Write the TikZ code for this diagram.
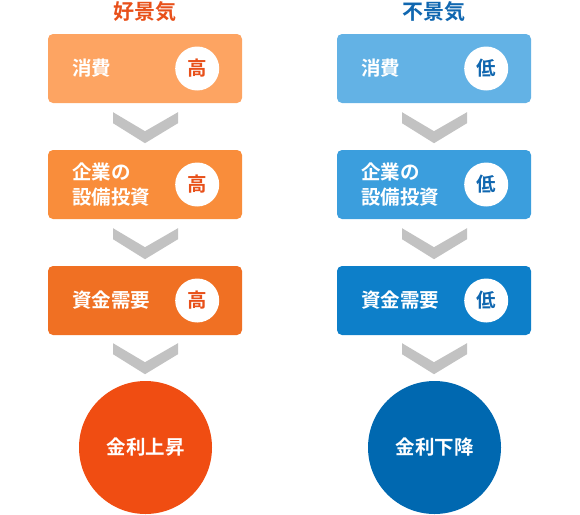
\documentclass[tikz,border=0pt]{standalone}
\usepackage{fontspec}
\usetikzlibrary{positioning}
\newfontfamily\jpfont[BoldFont={* Bold}]{Noto Sans CJK JP}
\usepackage{xcolor}
\definecolor{boomA}{HTML}{FDA462}
\definecolor{boomB}{HTML}{F98D3B}
\definecolor{boomC}{HTML}{F07023}
\definecolor{boomD}{HTML}{F04D12}
\definecolor{boomText}{HTML}{E8501A}
\definecolor{slumpA}{HTML}{63B2E5}
\definecolor{slumpB}{HTML}{3B9EDD}
\definecolor{slumpC}{HTML}{0D7FC9}
\definecolor{slumpD}{HTML}{0068B0}
\definecolor{slumpText}{HTML}{1067B0}
\definecolor{chevgray}{HTML}{C2C2C2}

\tikzset{
  stagebox/.style={rectangle, rounded corners=5pt, minimum width=194pt,
    minimum height=69pt, inner sep=0pt},
  stagetext/.style={anchor=west, text=white, align=left, inner sep=0pt,
    font=\jpfont\bfseries\fontsize{19.5}{25}\selectfont},
  levelmark/.style={circle, fill=white, minimum size=44pt, inner sep=0pt,
    font=\jpfont\bfseries\fontsize{19.5}{19.5}\selectfont},
  headline/.style={font=\jpfont\bfseries\fontsize{21}{21}\selectfont},
  resultdisc/.style={circle, minimum size=133pt, inner sep=0pt, text=white,
    font=\jpfont\bfseries\fontsize{19.5}{19.5}\selectfont},
  chevron/.pic={
    \fill[chevgray] (-32,0) -- (0,19) -- (33,0) -- (33,11) -- (0,31)
      -- (-32,11) -- cycle;
  }
}

\begin{document}
\begin{tikzpicture}[x=1pt, y=-1pt]
  \useasboundingbox (0,0) rectangle (580,514);

  % good economy
  \node[headline, text=boomText] (boomhead) at (145,12) {好景気};
  \node[stagebox, fill=boomA] (boom1) at (145,68.5) {};
  \node[stagebox, fill=boomB] (boom2) at (145,184.5) {};
  \node[stagebox, fill=boomC] (boom3) at (145,300.5) {};
  \node[resultdisc, fill=boomD] (boomres) at (145.5,447.5) {金利上昇};

  \node[stagetext] (boom1t) at ([xshift=24pt]boom1.west) {消費};
  \node[stagetext] (boom2t) at ([xshift=24pt]boom2.west) {企業の\\設備投資};
  \node[stagetext] (boom3t) at ([xshift=24pt]boom3.west) {資金需要};
  \node[levelmark, text=boomText] (boom1m) at ([xshift=-45pt]boom1.east) {高};
  \node[levelmark, text=boomText] (boom2m) at ([xshift=-45pt]boom2.east) {高};
  \node[levelmark, text=boomText] (boom3m) at ([xshift=-45pt]boom3.east) {高};

  \pic at ([yshift=-9pt]boom1.south) {chevron};
  \pic at ([yshift=-9pt]boom2.south) {chevron};
  \pic at ([yshift=-8pt]boom3.south) {chevron};

  % bad economy
  \node[headline, text=slumpText] (slumphead) at (434,12) {不景気};
  \node[stagebox, fill=slumpA] (slump1) at (434,68.5) {};
  \node[stagebox, fill=slumpB] (slump2) at (434,184.5) {};
  \node[stagebox, fill=slumpC] (slump3) at (434,300.5) {};
  \node[resultdisc, fill=slumpD] (slumpres) at (434.5,447.5) {金利下降};

  \node[stagetext] (slump1t) at ([xshift=24pt]slump1.west) {消費};
  \node[stagetext] (slump2t) at ([xshift=24pt]slump2.west) {企業の\\設備投資};
  \node[stagetext] (slump3t) at ([xshift=24pt]slump3.west) {資金需要};
  \node[levelmark, text=slumpText] (slump1m) at ([xshift=-45pt]slump1.east) {低};
  \node[levelmark, text=slumpText] (slump2m) at ([xshift=-45pt]slump2.east) {低};
  \node[levelmark, text=slumpText] (slump3m) at ([xshift=-45pt]slump3.east) {低};

  \pic at ([yshift=-9pt]slump1.south) {chevron};
  \pic at ([yshift=-9pt]slump2.south) {chevron};
  \pic at ([yshift=-8pt]slump3.south) {chevron};
\end{tikzpicture}
\end{document}
